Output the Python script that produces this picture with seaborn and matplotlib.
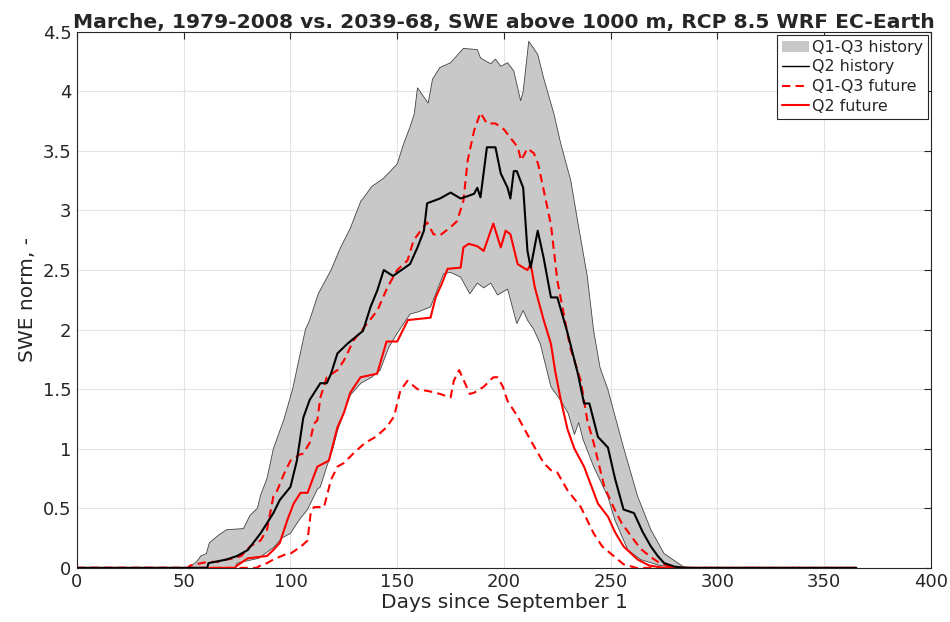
import numpy as np
import pandas as pd
import matplotlib
matplotlib.use("Agg")
from matplotlib import pyplot as plt
from matplotlib.patches import Patch
from matplotlib.lines import Line2D
import seaborn as sns

# Q1-Q3 history band (upper and lower edges)
q3_hist_day = [0, 52, 56, 58, 60.6, 62, 66, 70, 78, 81, 84.5, 86, 89, 92, 97, 101, 104, 107, 109, 113,
               119, 123.5, 128, 133, 134, 138, 143.6, 150, 153, 156, 158, 159.5, 164.5, 166.5, 170, 175,
               178, 181, 187.5, 189, 193.8, 196, 198.5, 201.7, 204.6, 207.8, 209, 211.6, 215.8, 218.6,
               223.4, 226.6, 231.3, 234.6, 239, 242, 245, 248.6, 256, 262.6, 268.8, 275, 284, 290, 365]
q3_hist_val = [0, 0, 0.05, 0.1, 0.12, 0.21, 0.27, 0.32, 0.33, 0.44, 0.5, 0.61, 0.75, 1.0, 1.25, 1.5, 1.75,
               2.0, 2.08, 2.3, 2.5, 2.69, 2.85, 3.08, 3.1, 3.2, 3.27, 3.39, 3.56, 3.7, 3.81, 4.03, 3.9, 4.1,
               4.2, 4.24, 4.3, 4.36, 4.35, 4.28, 4.23, 4.27, 4.21, 4.24, 4.17, 3.92, 4.0, 4.42, 4.31, 4.11,
               3.81, 3.56, 3.25, 2.9, 2.45, 1.99, 1.68, 1.5, 1.01, 0.6, 0.32, 0.12, 0.01, 0, 0]

q1_hist_day = [0, 74, 75, 85, 92, 96, 100, 104, 108, 112.6, 114, 117, 120, 122, 125, 128, 133, 138, 142,
               146, 150, 153, 156, 160, 165.6, 168, 171.8, 175, 179.7, 184, 187.5, 190.5, 193.8, 197,
               201.7, 206, 209, 211, 214, 217, 222, 226, 230, 233, 235, 237, 242, 248.6, 252, 258, 264,
               273, 284, 365]
q1_hist_val = [0, 0, 0.04, 0.08, 0.17, 0.25, 0.29, 0.4, 0.49, 0.66, 0.68, 0.85, 1.01, 1.15, 1.3, 1.45,
               1.55, 1.6, 1.66, 1.85, 1.97, 2.05, 2.13, 2.15, 2.19, 2.3, 2.47, 2.48, 2.44, 2.3, 2.39, 2.35,
               2.39, 2.29, 2.34, 2.05, 2.16, 2.08, 2.0, 1.88, 1.52, 1.42, 1.3, 1.12, 1.22, 1.08, 0.85,
               0.6, 0.4, 0.15, 0.07, 0.02, 0, 0]

# Q2 history
q2_hist_day = [0, 61, 61.6, 70, 75, 80, 86, 92, 95, 100, 103, 106, 109, 114, 117, 119, 122, 126.6, 134,
               137.5, 140.7, 143.7, 148, 152, 156, 159.5, 162.5, 164, 170, 175, 179.7, 183, 186, 187.5,
               189, 192, 196, 198.5, 201.7, 203, 204.6, 206, 209, 211, 212.5, 215.8, 218.6, 222, 225,
               229.8, 234.6, 237.5, 240, 244, 248.7, 252, 256, 260.9, 265, 268.8, 272, 275, 280, 285, 365]
q2_hist_val = [0, 0, 0.04, 0.07, 0.1, 0.15, 0.29, 0.46, 0.57, 0.68, 0.9, 1.26, 1.41, 1.55, 1.55, 1.63,
               1.8, 1.88, 1.99, 2.19, 2.33, 2.5, 2.45, 2.5, 2.55, 2.69, 2.83, 3.06, 3.1, 3.15, 3.1, 3.12,
               3.14, 3.19, 3.11, 3.53, 3.53, 3.31, 3.19, 3.1, 3.33, 3.33, 3.19, 2.66, 2.52, 2.83, 2.6, 2.27,
               2.27, 1.97, 1.63, 1.38, 1.38, 1.1, 1.01, 0.75, 0.49, 0.46, 0.3, 0.18, 0.1, 0.04, 0.01, 0, 0]

# Q3 future
q3_fut_day = [0, 52, 53, 61, 66, 70, 73.6, 77, 81, 86, 89, 92, 93.8, 97, 100, 104, 106, 109, 111, 112.6,
              114, 117, 122, 125, 129.6, 135, 140.7, 145.3, 150, 154.8, 157.7, 161, 164, 167, 170, 175,
              178, 181, 183, 186, 189, 192, 196, 200, 203, 206.5, 208, 211, 214, 216, 218.6, 222, 225,
              228, 231, 236, 239, 242, 247, 251.8, 255, 259.8, 264, 268.8, 273, 278, 282, 365]
q3_fut_val = [0, 0, 0.02, 0.05, 0.05, 0.07, 0.08, 0.1, 0.18, 0.23, 0.32, 0.6, 0.65, 0.79, 0.9, 0.95,
              0.96, 1.05, 1.21, 1.24, 1.43, 1.6, 1.66, 1.74, 1.91, 2.03, 2.16, 2.35, 2.5, 2.58, 2.75, 2.83,
              2.9, 2.8, 2.79, 2.86, 2.91, 3.08, 3.42, 3.67, 3.82, 3.73, 3.73, 3.68, 3.61, 3.53, 3.42, 3.52,
              3.48, 3.39, 3.17, 2.88, 2.41, 2.13, 1.85, 1.57, 1.24, 1.05, 0.68, 0.49, 0.38, 0.26, 0.16,
              0.09, 0.04, 0.01, 0, 0]

# Q1 future
q1_fut_day = [0, 84, 86, 89, 92, 98.5, 100, 105, 108, 109.4, 111, 115.7, 119, 122, 125, 130, 135, 140,
              145, 148.5, 151.5, 154.8, 159.5, 165.6, 170, 175, 176.5, 179, 181, 184, 186, 190.5, 195,
              197, 199.5, 201.7, 206.4, 212.5, 218.6, 222, 225, 229.8, 236, 242, 246, 250, 256, 262, 365]
q1_fut_val = [0, 0, 0.02, 0.04, 0.07, 0.12, 0.12, 0.18, 0.23, 0.45, 0.51, 0.51, 0.74, 0.85, 0.88, 0.97,
              1.05, 1.1, 1.18, 1.27, 1.49, 1.57, 1.5, 1.48, 1.46, 1.43, 1.57, 1.66, 1.58, 1.46, 1.47, 1.52,
              1.6, 1.6, 1.52, 1.4, 1.27, 1.07, 0.88, 0.82, 0.8, 0.65, 0.51, 0.29, 0.18, 0.12, 0.03, 0, 0]

# Q2 future
q2_fut_day = [0, 74, 75, 80, 89, 92, 95, 98.5, 101.5, 104.7, 108, 112.6, 118, 122, 125, 128, 132.8, 140.6,
              145, 150, 155, 165.6, 168, 171, 173.6, 179.7, 181, 183.5, 187.5, 190.5, 195, 198.5, 200.8,
              203, 206.4, 209, 211, 212.5, 214.5, 218.6, 222, 224, 226.6, 229.8, 233, 237.5, 244, 248.7,
              252, 256, 262.6, 268, 275, 365]
q2_fut_val = [0, 0, 0.02, 0.08, 0.1, 0.15, 0.21, 0.4, 0.54, 0.63, 0.63, 0.85, 0.9, 1.18, 1.3, 1.47, 1.6,
              1.63, 1.9, 1.9, 2.08, 2.1, 2.27, 2.39, 2.51, 2.52, 2.69, 2.72, 2.7, 2.66, 2.89, 2.69, 2.83,
              2.8, 2.55, 2.52, 2.5, 2.55, 2.35, 2.08, 1.88, 1.65, 1.41, 1.16, 1.0, 0.85, 0.54, 0.43, 0.3,
              0.18, 0.07, 0.02, 0, 0]

sns.set_style("white")
plt.rcParams['font.family'] = ['DejaVu Sans']

fig = plt.figure(figsize=(9.5, 6.22), dpi=100)
ax = fig.add_axes([0.081, 0.087, 0.899, 0.862])

# history band
band_x = np.concatenate([q3_hist_day, q1_hist_day[::-1]])
band_y = np.concatenate([q3_hist_val, q1_hist_val[::-1]])
ax.fill(band_x, band_y, facecolor='#c8c8c8', edgecolor='#444444', linewidth=0.6, zorder=2)

red = '#ff0000'
sns.lineplot(x=q2_hist_day, y=q2_hist_val, ax=ax, color='black', linewidth=1.5, zorder=4)
sns.lineplot(x=q3_fut_day, y=q3_fut_val, ax=ax, color=red, linewidth=1.5, linestyle=(0, (4, 2.5)), zorder=3)
sns.lineplot(x=q1_fut_day, y=q1_fut_val, ax=ax, color=red, linewidth=1.5, linestyle=(0, (4, 2.5)), zorder=3)
sns.lineplot(x=q2_fut_day, y=q2_fut_val, ax=ax, color=red, linewidth=1.5, zorder=3)

ax.set_xlim(0, 400)
ax.set_ylim(0, 4.5)
ax.set_xticks(np.arange(0, 401, 50))
ax.set_yticks(np.arange(0, 4.51, 0.5))
ax.set_yticklabels(['0', '0.5', '1', '1.5', '2', '2.5', '3', '3.5', '4', '4.5'])
ax.grid(True, color='#e3e3e3', linewidth=0.8, zorder=0)
ax.set_axisbelow(True)
ax.tick_params(direction='in', top=True, right=True, length=5, width=0.8,
               labelsize=13, colors='#262626', pad=4)
for s in ax.spines.values():
    s.set_color('#262626')
    s.set_linewidth(0.8)

ax.set_xlabel('Days since September 1', fontsize=14.5, color='#262626', labelpad=1)
ax.set_ylabel('SWE norm, -', fontsize=14.5, color='#262626', labelpad=4)
ax.set_title('Marche, 1979-2008 vs. 2039-68, SWE above 1000 m, RCP 8.5 WRF EC-Earth',
             fontsize=14.6, fontweight='bold', pad=3)

handles = [Patch(facecolor='#c8c8c8', edgecolor='none', label='Q1-Q3 history'),
           Line2D([], [], color='black', linewidth=1, label='Q2 history'),
           Line2D([], [], color=red, linewidth=1.5, linestyle=(0, (4, 2.5)), label='Q1-Q3 future'),
           Line2D([], [], color=red, linewidth=1.5, label='Q2 future')]
leg = ax.legend(handles=handles, loc='upper right', fontsize=11.4, frameon=True, fancybox=False,
                framealpha=1, edgecolor='#262626', borderpad=0.3, labelspacing=0.3,
                handlelength=1.7, handletextpad=0.2, borderaxespad=0.2)
leg.get_frame().set_linewidth(0.8)

fig.savefig('out.png', dpi=100)
